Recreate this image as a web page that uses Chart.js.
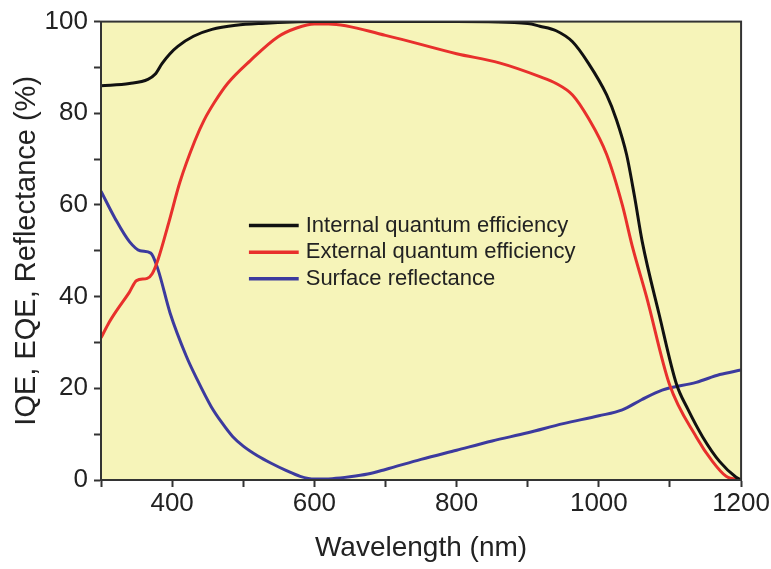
<!DOCTYPE html>
<html>
<head>
<meta charset="utf-8">
<script src="https://cdn.jsdelivr.net/npm/chart.js@4.4.0/dist/chart.umd.min.js"></script>
<style>
  html, body { margin: 0; padding: 0; background: #fff; }
  #wrap { width: 771px; height: 569px; }
</style>
</head>
<body>
<div id="wrap"><canvas id="chart" width="771" height="569"></canvas></div>
<script>
// wavelength (nm) and values (%)
const iqeNm = [300, 340, 366, 376, 386, 397, 408, 430, 456, 490, 526, 600, 700, 800, 900, 917, 940, 963, 985, 1011, 1025, 1039, 1050, 1061, 1085, 1109, 1125, 1146, 1170, 1193, 1200];
const iqe   = [86, 86.5, 87.4, 88.5, 90.9, 93, 94.6, 96.8, 98.3, 99.2, 99.6, 100, 100, 100, 99.6, 99, 98, 95.6, 91, 84, 78.5, 71, 62, 52, 36, 21, 15.5, 9.4, 4, 0.6, 0];

const eqeNm = [300, 310, 320, 340, 350, 365, 372, 380, 395, 411, 432, 445, 460, 478, 510, 549, 575, 600, 620, 700, 800, 860, 917, 940, 963, 985, 1011, 1033, 1047, 1067, 1099, 1137, 1160, 1179, 1200];
const eqe   = [31, 34, 36.5, 41, 43.5, 44, 45, 48, 56, 65, 74, 78.5, 82.5, 86.5, 91.5, 96.7, 98.6, 99.5, 99.5, 97, 93, 91, 88, 86.5, 84, 79, 71, 60, 51, 40, 21, 9.4, 4, 0.8, 0];

const refNm = [300, 320, 340, 355, 370, 380, 397, 420, 435, 455, 470, 485, 500, 520, 540, 560, 580, 600, 625, 650, 675, 700, 750, 800, 850, 900, 950, 1000, 1033, 1060, 1089, 1137, 1170, 1200];
const refl  = [63, 57, 52, 50, 49.5, 46, 36.5, 27, 22, 16, 12.5, 9.5, 7.4, 5.3, 3.6, 2.1, 0.8, 0.2, 0.3, 0.7, 1.3, 2.3, 4.5, 6.5, 8.5, 10.3, 12.3, 14, 15.3, 17.5, 19.6, 21.3, 23, 24];

const seriesLabels = ['Internal quantum efficiency', 'External quantum efficiency', 'Surface reflectance'];
const seriesColors = ['#111111', '#e8302c', '#3c3a9e'];

const xLabelTicks = [400, 600, 800, 1000, 1200];

function pts(xs, ys) {
    return xs.map((x, i) => ({ x: x, y: ys[i] }));
}

// pale yellow plot area and frame
const plotBox = {
    id: 'plotBox',
    beforeDatasetsDraw(chart) {
        const a = chart.chartArea;
        const ctx = chart.ctx;
        ctx.save();
        ctx.fillStyle = '#f6f4b9';
        ctx.fillRect(a.left, a.top, a.right - a.left, a.bottom - a.top);
        ctx.restore();
    },
    afterDraw(chart) {
        const a = chart.chartArea;
        const ctx = chart.ctx;
        ctx.save();
        ctx.strokeStyle = '#333';
        ctx.lineWidth = 2;
        ctx.strokeRect(a.left, a.top, a.right - a.left, a.bottom - a.top);
        ctx.restore();
    }
};

// legend drawn inside the plot
const innerLegend = {
    id: 'innerLegend',
    afterDraw(chart) {
        const ctx = chart.ctx;
        const x = chart.scales.x;
        const y = chart.scales.y;
        const x0 = x.getPixelForValue(508);
        const x1 = x.getPixelForValue(578);
        ctx.save();
        ctx.font = '22px "Liberation Sans", Arial, sans-serif';
        ctx.textBaseline = 'middle';
        chart.data.datasets.forEach((ds, i) => {
            const yy = y.getPixelForValue(55.5 - i * 5.8);
            ctx.strokeStyle = ds.borderColor;
            ctx.lineWidth = 3.5;
            ctx.beginPath();
            ctx.moveTo(x0, yy);
            ctx.lineTo(x1, yy);
            ctx.stroke();
            ctx.fillStyle = '#222';
            ctx.fillText(ds.label, x1 + 7, yy);
        });
        ctx.restore();
    }
};

new Chart(document.getElementById('chart'), {
    type: 'line',
    data: {
        datasets: [
            { label: seriesLabels[0], data: pts(iqeNm, iqe), borderColor: seriesColors[0] },
            { label: seriesLabels[1], data: pts(eqeNm, eqe), borderColor: seriesColors[1] },
            { label: seriesLabels[2], data: pts(refNm, refl), borderColor: seriesColors[2] }
        ].map(d => Object.assign(d, {
            borderWidth: 3,
            pointRadius: 0,
            fill: false,
            cubicInterpolationMode: 'monotone'
        }))
    },
    options: {
        responsive: false,
        animation: false,
        layout: { padding: { left: 0, right: 29, top: 20, bottom: 0 } },
        plugins: {
            legend: { display: false },
            tooltip: { enabled: false }
        },
        scales: {
            x: {
                type: 'linear',
                min: 300,
                max: 1200,
                afterFit(scale) { scale.height = 89; },
                ticks: {
                    stepSize: 100,
                    autoSkip: false,
                    maxRotation: 0,
                    padding: 1,
                    color: '#222',
                    font: { family: '"Liberation Sans", Arial, sans-serif', size: 26 },
                    callback: v => xLabelTicks.includes(v) ? String(v) : ''
                },
                grid: { drawOnChartArea: false, drawTicks: true, tickLength: 7, tickColor: '#333', tickWidth: 2 },
                border: { display: true, color: '#333', width: 2 },
                title: {
                    display: true,
                    text: 'Wavelength (nm)',
                    color: '#222',
                    font: { family: '"Liberation Sans", Arial, sans-serif', size: 28 },
                    padding: { top: 0, bottom: 4 }
                }
            },
            y: {
                min: 0,
                max: 100,
                afterFit(scale) { scale.width = 101; },
                ticks: {
                    stepSize: 10,
                    autoSkip: false,
                    padding: 6,
                    color: '#222',
                    font: { family: '"Liberation Sans", Arial, sans-serif', size: 26 },
                    callback: v => v % 20 === 0 ? String(v) : ''
                },
                grid: { drawOnChartArea: false, drawTicks: true, tickLength: 7, tickColor: '#333', tickWidth: 2 },
                border: { display: true, color: '#333', width: 2 },
                title: {
                    display: true,
                    text: 'IQE, EQE, Reflectance (%)',
                    color: '#222',
                    font: { family: '"Liberation Sans", Arial, sans-serif', size: 29 },
                    padding: { top: 10, bottom: 0 }
                }
            }
        }
    },
    plugins: [plotBox, innerLegend]
});
</script>
</body>
</html>
